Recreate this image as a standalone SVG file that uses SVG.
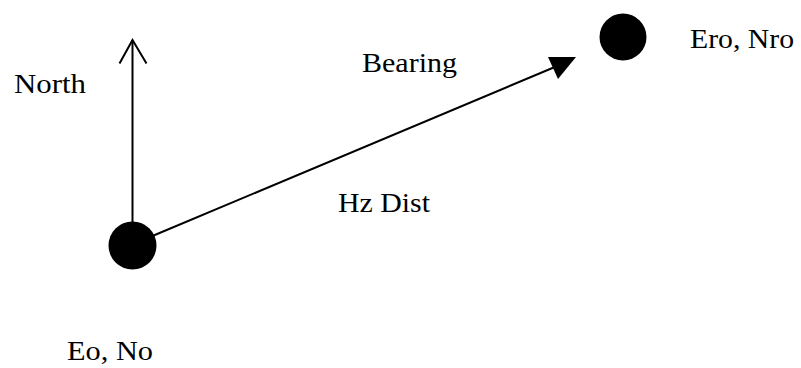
<svg xmlns="http://www.w3.org/2000/svg" width="801" height="368" viewBox="0 0 801 368">
<style>
text{font-family:"Liberation Serif","Times New Roman",serif;font-size:27px;fill:#000}
.ln{stroke:#000;stroke-width:2;fill:none}
</style>
<rect width="801" height="368" fill="#fff"/>
<g id="connectors">
<line class="ln" x1="132.5" y1="245" x2="132.5" y2="40"/>
<polyline class="ln" points="119.5,63.5 132.5,40 146.5,63.5"/>
<line class="ln" x1="150" y1="237" x2="562" y2="64"/>
<polygon points="548,57 576,57 558,79" fill="#000"/>
</g>
<g id="node-origin"><circle cx="132.5" cy="245.5" r="24" fill="#000"/></g>
<g id="node-target"><circle cx="623" cy="37" r="23.5" fill="#000"/></g>
<g id="labels">
<text x="14" y="93" textLength="72" lengthAdjust="spacingAndGlyphs">North</text>
<text x="362" y="72" textLength="95" lengthAdjust="spacingAndGlyphs">Bearing</text>
<text x="338" y="212" textLength="92" lengthAdjust="spacingAndGlyphs">Hz Dist</text>
<text x="690" y="48" textLength="104" lengthAdjust="spacingAndGlyphs">Ero, Nro</text>
<text x="67" y="360" textLength="86" lengthAdjust="spacingAndGlyphs">Eo, No</text>
</g>
</svg>
